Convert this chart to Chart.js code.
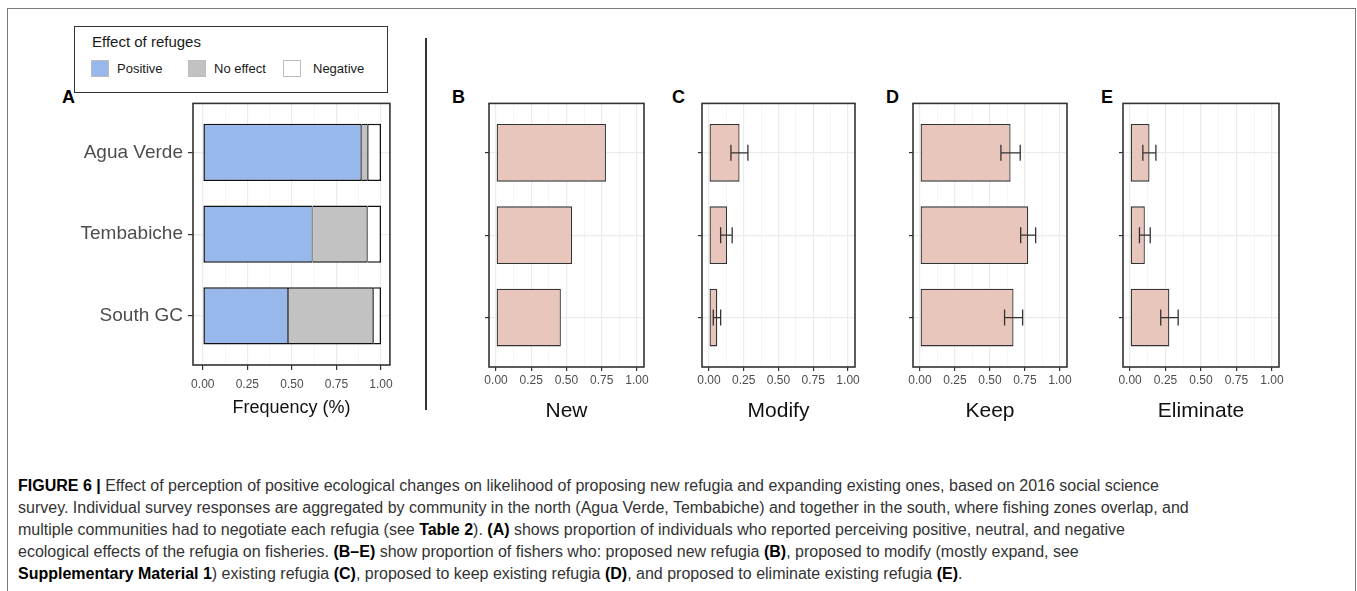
<!DOCTYPE html>
<html>
<head>
<meta charset="utf-8">
<script src="https://cdn.jsdelivr.net/npm/chart.js@4.4.1/dist/chart.umd.min.js"></script>
<style>
  body { margin: 0; width: 1357px; height: 591px; background: #fff; position: relative; overflow: hidden;
         font-family: 'Liberation Sans', Arial, sans-serif; }
  canvas { position: absolute; }
  #marco { position: absolute; left: 7px; top: 8px; width: 1347px; height: 620px; border: 1.5px solid #7a7a7a; }
  #leyenda { position: absolute; left: 74px; top: 26px; width: 312px; height: 65px; border: 1px solid #333; background: #fff; }
  #leyenda .titulo { position: absolute; left: 17px; top: 5px; font-size: 15px; color: #1a1a1a; line-height: 20px; }
  #leyenda .item { position: absolute; top: 32px; height: 20px; line-height: 20px; font-size: 13px; color: #1a1a1a; white-space: nowrap; }
  #leyenda .cuadro { position: absolute; top: 1px; width: 18px; height: 17px; border: 1px solid #bbb; box-sizing: border-box; }
  .letra { position: absolute; top: 87px; font-size: 18px; font-weight: bold; line-height: 20px; color: #000; }
  #separador { position: absolute; left: 425px; top: 38px; width: 1.5px; height: 372px; background: #333; }
  #pie { position: absolute; left: 18px; top: 475px; font-size: 16px; line-height: 22px; color: #333; white-space: nowrap; }
  #pie b { color: #000; }
</style>
</head>
<body>
<div id="marco"></div>
<div id="separador"></div>
<div id="leyenda"><div class="titulo">Effect of refuges</div></div>
<div class="letra" style="left:62px">A</div>
<div class="letra" style="left:452px">B</div>
<div class="letra" style="left:672px">C</div>
<div class="letra" style="left:886px">D</div>
<div class="letra" style="left:1101px">E</div>

<canvas id="chartA" width="340" height="332" style="left:60px;top:87px"></canvas>
<canvas id="chartB" width="173" height="332" style="left:479px;top:92px"></canvas>
<canvas id="chartC" width="171" height="332" style="left:692px;top:92px"></canvas>
<canvas id="chartD" width="172" height="332" style="left:903px;top:92px"></canvas>
<canvas id="chartE" width="174" height="332" style="left:1113px;top:92px"></canvas>

<div id="pie">
  <div><b>FIGURE 6 |</b> Effect of perception of positive ecological changes on likelihood of proposing new refugia and expanding existing ones, based on 2016 social science</div>
  <div>survey. Individual survey responses are aggregated by community in the north (Agua Verde, Tembabiche) and together in the south, where fishing zones overlap, and</div>
  <div>multiple communities had to negotiate each refugia (see <b>Table 2</b>). <b>(A)</b> shows proportion of individuals who reported perceiving positive, neutral, and negative</div>
  <div>ecological effects of the refugia on fisheries. <b>(B–E)</b> show proportion of fishers who: proposed new refugia <b>(B)</b>, proposed to modify (mostly expand, see</div>
  <div><b>Supplementary Material 1</b>) existing refugia <b>(C)</b>, proposed to keep existing refugia <b>(D)</b>, and proposed to eliminate existing refugia <b>(E)</b>.</div>
</div>

<script>
// DATOS
var comunidades = ['Agua Verde', 'Tembabiche', 'South GC'];

// panel A: proporcion de cada efecto percibido
var efectos = ['Positive', 'No effect', 'Negative'];
var positivo = [0.889, 0.615, 0.478];
var sinEfecto = [0.037, 0.308, 0.478];
var negativo = [0.074, 0.077, 0.044];
var coloresEfecto = ['#98B7EB', '#C2C2C2', '#FFFFFF'];

// paneles B-E: proporcion de pescadores y barras de error
var nuevo = [0.78, 0.54, 0.46];
var modificar = [0.22, 0.13, 0.06];
var modificarMin = [0.158, 0.084, 0.031];
var modificarMax = [0.28, 0.167, 0.084];
var mantener = [0.647, 0.773, 0.668];
var mantenerMin = [0.578, 0.719, 0.604];
var mantenerMax = [0.716, 0.826, 0.733];
var eliminar = [0.137, 0.104, 0.277];
var eliminarMin = [0.09, 0.066, 0.216];
var eliminarMax = [0.182, 0.142, 0.339];

// ticks del eje x
var ticksX = [0, 0.125, 0.25, 0.375, 0.5, 0.625, 0.75, 0.875, 1];
var ticksMayores = [0, 0.25, 0.5, 0.75, 1];

Chart.defaults.font.family = "'Liberation Sans', Arial, sans-serif";
Chart.defaults.animation = false;

//LEYENDA
var posLeyenda = [16, 113, 208];
efectos.forEach(function (nombre, k) {
    var item = document.createElement('div');
    item.className = 'item';
    item.style.left = posLeyenda[k] + 'px';
    item.innerHTML = '<span class="cuadro" style="background:' + coloresEfecto[k] + '"></span>' +
        '<span style="margin-left:' + (k === 2 ? 30 : 26) + 'px">' + nombre + '</span>';
    document.getElementById('leyenda').appendChild(item);
});

function esMayor(v) {
    return ticksMayores.indexOf(v) >= 0;
}

//MARCO DEL PANEL
var marcoPanel = {
    id: 'marcoPanel',
    afterDraw: function (chart) {
        var a = chart.chartArea;
        var ctx = chart.ctx;
        ctx.save();
        ctx.strokeStyle = '#333';
        ctx.lineWidth = 1.6;
        ctx.strokeRect(a.left, a.top, a.right - a.left, a.bottom - a.top);
        ctx.restore();
    }
};

//BARRAS DE ERROR (se leen del dataset)
var barrasError = {
    id: 'barrasError',
    afterDatasetsDraw: function (chart) {
        var ds = chart.data.datasets[0];
        if (!ds.errMin) return;
        var ctx = chart.ctx;
        var xs = chart.scales.x;
        var ys = chart.scales.y;
        ctx.save();
        ctx.strokeStyle = '#333';
        ctx.lineWidth = 1.3;
        ds.errMin.forEach(function (lo, i) {
            var x1 = xs.getPixelForValue(lo);
            var x2 = xs.getPixelForValue(ds.errMax[i]);
            var y = ys.getPixelForValue(i);
            ctx.beginPath();
            ctx.moveTo(x1, y); ctx.lineTo(x2, y);
            ctx.moveTo(x1, y - 8); ctx.lineTo(x1, y + 8);
            ctx.moveTo(x2, y - 8); ctx.lineTo(x2, y + 8);
            ctx.stroke();
        });
        ctx.restore();
    }
};

//EJES
function ejeX(min, largoTick, sep, titulo, tamTitulo, alto, apilado) {
    return {
        type: 'linear',
        min: min,
        max: 1.05,
        stacked: apilado,
        afterBuildTicks: function (s) {
            s.ticks = ticksX.map(function (v) { return { value: v }; });
        },
        afterFit: function (s) { s.height = alto; },
        ticks: {
            autoSkip: false,
            maxRotation: 0,
            padding: sep,
            color: '#4D4D4D',
            font: { size: 12 },
            callback: function (v) { return esMayor(v) ? v.toFixed(2) : ''; }
        },
        grid: {
            color: function (c) { return esMayor(c.tick.value) ? '#EBEBEB' : '#F2F2F2'; },
            lineWidth: function (c) { return esMayor(c.tick.value) ? 1.2 : 0.7; },
            tickLength: largoTick,
            tickColor: function (c) { return esMayor(c.tick.value) ? '#333' : 'rgba(0,0,0,0)'; },
            tickWidth: 1.2
        },
        border: { display: false },
        title: { display: true, text: titulo, color: '#111', font: { size: tamTitulo }, padding: 0 }
    };
}

function ejeY(ancho, largoTick, sep, conEtiquetas, apilado) {
    return {
        type: 'linear',
        min: -0.6,
        max: 2.6,
        reverse: true,
        offset: false,
        stacked: apilado,
        afterBuildTicks: function (s) {
            s.ticks = comunidades.map(function (c, i) { return { value: i }; });
        },
        afterFit: function (s) { s.width = ancho; },
        ticks: {
            autoSkip: false,
            padding: sep,
            color: '#4D4D4D',
            font: { size: 19 },
            callback: function (v) { return conEtiquetas ? comunidades[v] : ''; }
        },
        grid: { offset: false, color: '#EBEBEB', lineWidth: 1.2, tickLength: largoTick, tickColor: '#333', tickWidth: 1.2 },
        border: { display: false }
    };
}

//PANEL A - barras apiladas
function graficaEfectos() {
    var series = [positivo, sinEfecto, negativo];
    var datasets = efectos.map(function (nombre, k) {
        return {
            label: nombre,
            data: series[k].map(function (v, i) { return { x: v, y: i }; }),
            backgroundColor: coloresEfecto[k],
            borderColor: '#111',
            borderWidth: { top: 1.5, bottom: 1.5, left: k === 0 ? 1.5 : 0.8, right: k === 2 ? 1.5 : 0.8 },
            borderSkipped: false,
            barPercentage: 0.7,
            categoryPercentage: 1
        };
    });
    new Chart(document.getElementById('chartA'), {
        type: 'bar',
        data: { datasets: datasets },
        options: {
            indexAxis: 'y',
            responsive: false,
            devicePixelRatio: 1,
            layout: { padding: { top: 16, right: 7, left: 0, bottom: 0 } },
            plugins: { legend: { display: false }, tooltip: { enabled: false } },
            scales: {
                x: ejeX(-0.055, 5, 7, 'Frequency (%)', 18, 54, true),
                y: ejeY(133, 5, 5, true, true)
            }
        },
        plugins: [marcoPanel]
    });
}

//PANELES B-E
function graficaPropuesta(id, valores, errMin, errMax, titulo) {
    new Chart(document.getElementById(id), {
        type: 'bar',
        data: {
            datasets: [{
                label: titulo,
                data: valores.map(function (v, i) { return { x: v, y: i }; }),
                errMin: errMin,
                errMax: errMax,
                backgroundColor: '#E9C6BC',
                borderColor: '#333',
                borderWidth: 1.3,
                borderSkipped: false,
                barPercentage: 0.7,
                categoryPercentage: 1
            }]
        },
        options: {
            indexAxis: 'y',
            responsive: false,
            devicePixelRatio: 1,
            layout: { padding: { top: 0, right: 8, left: 0, bottom: 0 } },
            plugins: { legend: { display: false }, tooltip: { enabled: false } },
            scales: {
                x: ejeX(-0.05, 4, 2, titulo, 21, 57, false),
                y: ejeY(10, 4, 0, false, false)
            }
        },
        plugins: [barrasError, marcoPanel]
    });
}

graficaEfectos();
graficaPropuesta('chartB', nuevo, null, null, 'New');
graficaPropuesta('chartC', modificar, modificarMin, modificarMax, 'Modify');
graficaPropuesta('chartD', mantener, mantenerMin, mantenerMax, 'Keep');
graficaPropuesta('chartE', eliminar, eliminarMin, eliminarMax, 'Eliminate');
</script>
</body>
</html>
